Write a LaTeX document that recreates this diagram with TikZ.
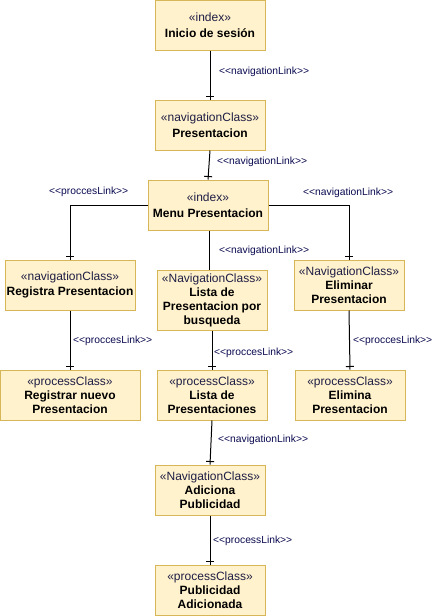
\documentclass[tikz,border=0pt]{standalone}
\usepackage{fontspec}
\setmainfont{Liberation Sans}
\usetikzlibrary{decorations.markings}
\definecolor{boxfill}{RGB}{255,242,204}
\definecolor{boxdraw}{RGB}{214,182,86}
\definecolor{stereo}{RGB}{30,30,70}
\definecolor{linklbl}{RGB}{10,10,80}
\newcommand{\stp}[1]{{\color{stereo}\fontseries{m}\selectfont «#1»}}
\newcommand{\lnk}[1]{<{}<#1>{}>}
\begin{document}
\begin{tikzpicture}[x=1pt,y=-1pt,
  cls/.style={draw=boxdraw,fill=boxfill,line width=1pt,minimum width=110pt,minimum height=50pt,
    inner sep=0pt,align=center,font=\fontsize{12}{14}\selectfont\bfseries},
  conn/.style={draw=black,line width=1pt},
  tick/.style={conn,postaction={decorate},decoration={markings,
    mark=at position -3pt with {\draw[line width=1pt] (0,-4pt) -- (0,4pt);}}},
  lbl/.style={anchor=west,inner sep=0pt,text=linklbl,font=\fontsize{10.3}{12}\selectfont}]
\useasboundingbox (0,0) rectangle (438,616);
\node[cls] (ini) at (210,25) {\stp{index}\\[1.5pt]Inicio de sesión};
\node[cls] (pres) at (210,125) {\stp{navigationClass}\\[1.5pt]Presentacion};
\node[cls,minimum width=120pt] (menu) at (208,205) {\stp{index}\\[1.5pt]Menu Presentacion};
\node[cls,minimum width=130pt] (reg) at (70,285) {\stp{navigationClass}\\[1.5pt]Registra Presentacion};
\node[cls,minimum height=60pt] (lista) at (212,300) {\stp{NavigationClass}\\Lista de\\Presentacion por\\busqueda};
\node[cls] (elim) at (349,285) {\stp{NavigationClass}\\Eliminar\\Presentacion};
\node[cls,minimum width=140pt] (regn) at (70,395) {\stp{processClass}\\Registrar nuevo\\Presentacion};
\node[cls] (listp) at (212,395) {\stp{processClass}\\Lista de\\Presentaciones};
\node[cls] (elima) at (350,395) {\stp{processClass}\\Elimina\\Presentacion};
\node[cls] (adic) at (210,490) {\stp{NavigationClass}\\Adiciona\\Publicidad};
\node[cls] (pub) at (210,590) {\stp{processClass}\\Publicidad\\Adicionada};

\draw[tick] (ini.south) -- (pres.north);
\draw[tick] (pres.south) -- (menu.north);
\draw[tick] (menu.west) -| (reg.north);
\draw[tick] (menu.east) -| (elim.north);
\draw[conn] ([xshift=1pt]menu.south) -- ([xshift=1pt]menu.south |- lista.north);
\draw[tick] (reg.south) -- (regn.north);
\draw[tick] (lista.south) -- (listp.north);
\draw[tick] (elim.south) -- (elima.north);
\draw[tick] (listp.south) -- (adic.north);
\draw[tick] (adic.south) -- (pub.north);

\node[lbl] (l1) at (219,72) {\lnk{navigationLink}};
\node[lbl] (l2) at (217,162) {\lnk{navigationLink}};
\node[lbl] (l3) at (49,192) {\lnk{proccesLink}};
\node[lbl] (l4) at (303,193) {\lnk{navigationLink}};
\node[lbl] (l5) at (219,251) {\lnk{navigationLink}};
\node[lbl] (l6) at (73,341) {\lnk{proccesLink}};
\node[lbl] (l7) at (214,353) {\lnk{proccesLink}};
\node[lbl] (l8) at (353,341) {\lnk{proccesLink}};
\node[lbl] (l9) at (218,440) {\lnk{navigationLink}};
\node[lbl] (l10) at (213,541) {\lnk{processLink}};
\end{tikzpicture}
\end{document}
